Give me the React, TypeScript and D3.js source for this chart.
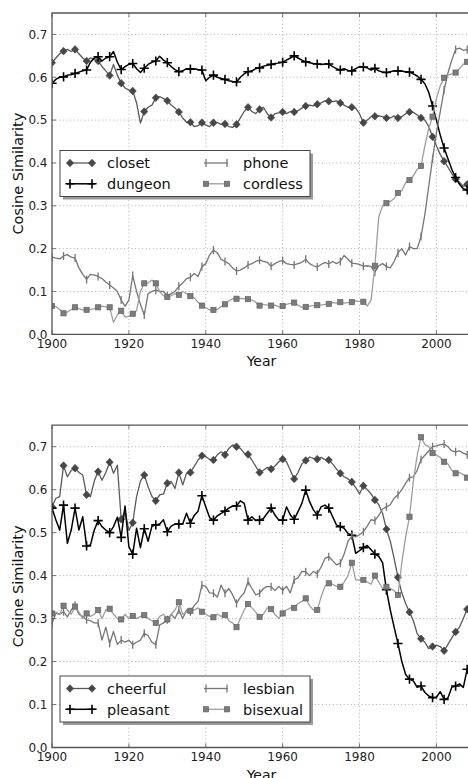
import * as d3 from "d3";

const YEARS = d3.range(1900, 2009);
const X_TICKS = [1900, 1920, 1940, 1960, 1980, 2000];
const Y_TICKS = [0, 0.1, 0.2, 0.3, 0.4, 0.5, 0.6, 0.7];

// top panel
const closet = [
  0.634, 0.645, 0.655, 0.661, 0.665, 0.66, 0.665, 0.655, 0.645, 0.638,
  0.645, 0.642, 0.638, 0.625, 0.615, 0.604, 0.63, 0.605, 0.586, 0.575,
  0.57, 0.568, 0.54, 0.493, 0.52, 0.53, 0.535, 0.552, 0.555, 0.55,
  0.545, 0.535, 0.528, 0.519, 0.505, 0.495, 0.495, 0.485, 0.487, 0.494,
  0.488, 0.485, 0.494, 0.494, 0.49, 0.491, 0.485, 0.483, 0.49, 0.505,
  0.52, 0.53, 0.52, 0.515, 0.525, 0.53, 0.515, 0.506, 0.515, 0.517,
  0.519, 0.515, 0.52, 0.519, 0.522, 0.528, 0.533, 0.535, 0.533, 0.537,
  0.54, 0.545, 0.544, 0.543, 0.545, 0.54, 0.535, 0.53, 0.53, 0.528,
  0.515, 0.494, 0.5, 0.508, 0.509, 0.51, 0.508, 0.505, 0.505, 0.51,
  0.505, 0.508, 0.515, 0.519, 0.518, 0.512, 0.505, 0.5, 0.485, 0.461,
  0.44, 0.42, 0.404, 0.39, 0.375, 0.362, 0.355, 0.345, 0.35,
];
const dungeon = [
  0.586, 0.595, 0.6, 0.601, 0.605, 0.606, 0.609, 0.612, 0.615, 0.617,
  0.635, 0.645, 0.648, 0.638, 0.645, 0.648, 0.66, 0.635, 0.618, 0.625,
  0.63, 0.632, 0.62, 0.611, 0.621, 0.63, 0.635, 0.638, 0.649, 0.64,
  0.634, 0.625, 0.618, 0.613, 0.615, 0.62, 0.619, 0.62, 0.618, 0.617,
  0.592, 0.6, 0.605, 0.6, 0.597, 0.595, 0.592, 0.59, 0.589, 0.6,
  0.608, 0.613, 0.615, 0.62, 0.622, 0.626, 0.628, 0.63, 0.632, 0.633,
  0.635, 0.64, 0.645, 0.65, 0.645, 0.64, 0.636, 0.634, 0.632, 0.631,
  0.63, 0.631, 0.631, 0.625, 0.62, 0.617, 0.62, 0.616, 0.615, 0.62,
  0.625, 0.624, 0.622, 0.617, 0.621, 0.615, 0.612, 0.611, 0.613, 0.615,
  0.615, 0.614, 0.613, 0.612, 0.608, 0.603, 0.595, 0.585, 0.565, 0.533,
  0.5, 0.465, 0.435, 0.41, 0.385, 0.366, 0.35, 0.34, 0.337,
];
const phone = [
  0.18, 0.178, 0.176, 0.183, 0.186, 0.18, 0.178, 0.155, 0.14, 0.128,
  0.14, 0.138, 0.135, 0.13, 0.122, 0.115, 0.108, 0.1, 0.08, 0.066,
  0.08, 0.137, 0.1, 0.07, 0.045, 0.095, 0.1, 0.103, 0.1, 0.1,
  0.09, 0.095, 0.1, 0.112, 0.12, 0.13, 0.133, 0.142, 0.135, 0.158,
  0.165, 0.185, 0.197, 0.19, 0.175, 0.17, 0.165, 0.155, 0.148, 0.15,
  0.155, 0.162, 0.165, 0.17, 0.173, 0.17, 0.168, 0.159, 0.165, 0.17,
  0.172, 0.165, 0.163, 0.162, 0.165, 0.168, 0.175, 0.165, 0.16, 0.157,
  0.163, 0.168, 0.164, 0.17, 0.165, 0.17, 0.184, 0.175, 0.166, 0.165,
  0.163, 0.159, 0.16, 0.158, 0.145, 0.16, 0.165, 0.158, 0.155, 0.17,
  0.19, 0.2, 0.185, 0.205, 0.2, 0.2, 0.228, 0.28, 0.345, 0.41,
  0.47, 0.52, 0.57, 0.61, 0.64, 0.665, 0.668, 0.663, 0.665,
];
const cordless = [
  0.066, 0.065, 0.058, 0.049, 0.052, 0.058, 0.063, 0.06, 0.057, 0.057,
  0.058, 0.06, 0.063, 0.066, 0.064, 0.063, 0.028, 0.045, 0.055, 0.04,
  0.042, 0.048, 0.055, 0.1, 0.119, 0.12, 0.127, 0.119, 0.1, 0.09,
  0.087, 0.09, 0.095, 0.092, 0.1, 0.095, 0.089, 0.085, 0.075, 0.067,
  0.062, 0.057, 0.057, 0.058, 0.065, 0.07, 0.078, 0.083, 0.083, 0.084,
  0.083, 0.082, 0.08, 0.075, 0.067, 0.07, 0.068, 0.067, 0.068, 0.064,
  0.066, 0.07, 0.072, 0.074, 0.068, 0.063, 0.064, 0.066, 0.067, 0.068,
  0.068, 0.07, 0.071, 0.074, 0.073, 0.075, 0.073, 0.074, 0.075, 0.078,
  0.077, 0.076, 0.066, 0.08, 0.16, 0.274, 0.3, 0.306, 0.31, 0.317,
  0.33, 0.335, 0.354, 0.36, 0.37, 0.385, 0.393, 0.44, 0.48, 0.508,
  0.55, 0.58, 0.599, 0.605, 0.608, 0.611, 0.62, 0.63, 0.636,
];

// bottom panel
const cheerful = [
  0.56, 0.58, 0.584, 0.656, 0.63, 0.645, 0.65, 0.64, 0.634, 0.588,
  0.584, 0.62, 0.642, 0.622, 0.64, 0.664, 0.638, 0.657, 0.531, 0.55,
  0.505, 0.523, 0.584, 0.62, 0.634, 0.607, 0.584, 0.574, 0.588, 0.59,
  0.615, 0.619, 0.603, 0.64, 0.611, 0.638, 0.64, 0.654, 0.669, 0.679,
  0.677, 0.67, 0.669, 0.681, 0.688, 0.681, 0.696, 0.704, 0.7, 0.696,
  0.685, 0.682, 0.669, 0.654, 0.64, 0.645, 0.652, 0.648, 0.655, 0.665,
  0.671, 0.665, 0.645, 0.625, 0.64, 0.66, 0.668, 0.676, 0.673, 0.671,
  0.675, 0.67, 0.669, 0.66, 0.648, 0.638, 0.63, 0.625, 0.618, 0.605,
  0.59, 0.609, 0.6, 0.59, 0.576, 0.565, 0.545, 0.508, 0.48, 0.44,
  0.396, 0.36, 0.335, 0.315, 0.295, 0.265, 0.253, 0.245, 0.23, 0.235,
  0.238, 0.235, 0.225, 0.24, 0.255, 0.269, 0.28, 0.3, 0.322,
];
const pleasant = [
  0.557, 0.53, 0.506, 0.564, 0.475, 0.506, 0.557, 0.506, 0.537, 0.469,
  0.471, 0.506, 0.528, 0.514, 0.506, 0.5, 0.514, 0.536, 0.489, 0.562,
  0.467, 0.45, 0.51, 0.465, 0.509, 0.48, 0.515, 0.518, 0.52, 0.53,
  0.502, 0.515, 0.52, 0.52, 0.52, 0.545, 0.522, 0.54, 0.55, 0.586,
  0.56, 0.535, 0.529, 0.539, 0.545, 0.55, 0.557, 0.562, 0.562, 0.574,
  0.568, 0.529, 0.537, 0.528, 0.529, 0.533, 0.545, 0.557, 0.541, 0.529,
  0.529, 0.56, 0.541, 0.531, 0.549, 0.568, 0.599, 0.572, 0.553, 0.541,
  0.56, 0.564, 0.557, 0.537, 0.518, 0.514, 0.51, 0.498, 0.494, 0.452,
  0.458, 0.465, 0.47, 0.46, 0.45, 0.445, 0.43, 0.367, 0.32, 0.28,
  0.242, 0.2, 0.17, 0.159, 0.155, 0.14, 0.143, 0.128, 0.12, 0.116,
  0.117, 0.13, 0.112, 0.115, 0.14, 0.143, 0.148, 0.14, 0.182,
];
const lesbian = [
  0.289, 0.312, 0.31, 0.316, 0.304, 0.32, 0.331, 0.31, 0.305, 0.297,
  0.295, 0.29, 0.29, 0.25, 0.28, 0.242, 0.27, 0.24, 0.25, 0.245,
  0.25, 0.239, 0.245, 0.25, 0.266, 0.26, 0.245, 0.239, 0.285, 0.29,
  0.297, 0.31, 0.3, 0.32, 0.3, 0.32, 0.316, 0.33, 0.34, 0.378,
  0.375, 0.36, 0.359, 0.35, 0.378, 0.359, 0.37, 0.355, 0.335, 0.35,
  0.36, 0.386, 0.37, 0.355, 0.359, 0.37, 0.375, 0.374, 0.365, 0.375,
  0.366, 0.375, 0.36, 0.39, 0.395, 0.41, 0.409, 0.4, 0.41, 0.404,
  0.42, 0.44, 0.444, 0.435, 0.425, 0.429, 0.45, 0.48, 0.492, 0.49,
  0.495, 0.502, 0.515, 0.53, 0.528, 0.54, 0.555, 0.56, 0.565, 0.58,
  0.588, 0.6, 0.615, 0.628, 0.63, 0.645, 0.67, 0.68, 0.69, 0.7,
  0.702, 0.705, 0.706, 0.7, 0.69, 0.688, 0.69, 0.685, 0.681,
];
const bisexual = [
  0.312, 0.315, 0.31, 0.33, 0.32, 0.31, 0.328, 0.315, 0.3, 0.312,
  0.305, 0.31, 0.32, 0.3, 0.32, 0.323, 0.31, 0.3, 0.298, 0.31,
  0.3, 0.306, 0.3, 0.305, 0.308, 0.3, 0.295, 0.29, 0.305, 0.31,
  0.298, 0.31, 0.32, 0.338, 0.31, 0.315, 0.318, 0.32, 0.325, 0.316,
  0.31, 0.305, 0.303, 0.31, 0.305, 0.308, 0.295, 0.29, 0.28, 0.3,
  0.32, 0.334, 0.325, 0.315, 0.304, 0.31, 0.325, 0.322, 0.31, 0.3,
  0.312, 0.32, 0.325, 0.325, 0.335, 0.34, 0.347, 0.33, 0.32, 0.32,
  0.35, 0.375, 0.382, 0.38, 0.375, 0.374, 0.385, 0.4, 0.43, 0.39,
  0.39, 0.39, 0.385, 0.38, 0.4, 0.385, 0.37, 0.374, 0.37, 0.365,
  0.355, 0.43, 0.49, 0.537, 0.62, 0.68, 0.722, 0.705, 0.7, 0.685,
  0.68, 0.675, 0.665, 0.66, 0.645, 0.638, 0.64, 0.635, 0.628,
];

type MarkerKind = "diamond" | "plus" | "vline" | "square";

const LINE_STYLE: Record<MarkerKind, { stroke: string; width: number }> = {
  diamond: { stroke: "#5a5a5a", width: 1.3 },
  plus: { stroke: "#000000", width: 1.5 },
  vline: { stroke: "#767676", width: 1.3 },
  square: { stroke: "#9e9e9e", width: 1.3 },
};

interface Series {
  name: string;
  values: number[];
  marker: MarkerKind;
}

const TOP_SERIES: Series[] = [
  { name: "closet", values: closet, marker: "diamond" },
  { name: "dungeon", values: dungeon, marker: "plus" },
  { name: "phone", values: phone, marker: "vline" },
  { name: "cordless", values: cordless, marker: "square" },
];
const BOTTOM_SERIES: Series[] = [
  { name: "cheerful", values: cheerful, marker: "diamond" },
  { name: "pleasant", values: pleasant, marker: "plus" },
  { name: "lesbian", values: lesbian, marker: "vline" },
  { name: "bisexual", values: bisexual, marker: "square" },
];

const FONT = "'DejaVu Sans', sans-serif";
const LEFT = 52;
const RIGHT = 471;

function Marker({ kind, x, y }: { kind: MarkerKind; x: number; y: number }) {
  if (kind === "diamond") {
    return (
      <path
        d={`M${x},${y - 3.8}L${x + 3.6},${y}L${x},${y + 3.8}L${x - 3.6},${y}Z`}
        fill="#474747"
        stroke="#3d3d3d"
        strokeWidth={0.6}
      />
    );
  }
  if (kind === "plus") {
    return (
      <path
        d={`M${x - 4.6},${y}H${x + 4.6}M${x},${y - 4.6}V${y + 4.6}`}
        stroke="#000"
        strokeWidth={1.6}
        fill="none"
      />
    );
  }
  if (kind === "vline") {
    return (
      <path d={`M${x},${y - 4}V${y + 4}`} stroke="#767676" strokeWidth={1.3} fill="none" />
    );
  }
  return (
    <rect x={x - 2.6} y={y - 2.6} width={5.2} height={5.2} fill="#7c7c7c" stroke="#616161" strokeWidth={0.7} />
  );
}

function Panel({
  id,
  top,
  bottom,
  series,
  legendTop,
}: {
  id: string;
  top: number;
  bottom: number;
  series: Series[];
  legendTop: number;
}) {
  const x = d3.scaleLinear().domain([1900, 2009]).range([LEFT, RIGHT]);
  const y = d3.scaleLinear().domain([0, 0.75]).range([bottom, top]);
  const line = d3
    .line<number>()
    .x((_, i) => x(YEARS[i]))
    .y((d) => y(d));

  const legendCols = [
    { handle: [67, 95], marks: [70, 92], text: 107 },
    { handle: [204, 228], marks: [206, 227], text: 243 },
  ];
  const legendRows = [legendTop + 12.5, legendTop + 33.3];

  return (
    <g>
      <defs>
        <clipPath id={id}>
          <rect x={LEFT} y={top} width={RIGHT - LEFT} height={bottom - top} />
        </clipPath>
      </defs>

      {/* grid */}
      {X_TICKS.slice(1).map((t) => (
        <line key={`gx${t}`} x1={x(t)} x2={x(t)} y1={top} y2={bottom}
          stroke="#8a8a8a" strokeWidth={0.7} strokeDasharray="1,2.6" />
      ))}
      {Y_TICKS.slice(1).map((t) => (
        <line key={`gy${t}`} x1={LEFT} x2={RIGHT} y1={y(t)} y2={y(t)}
          stroke="#8a8a8a" strokeWidth={0.7} strokeDasharray="1,2.6" />
      ))}

      <g clipPath={`url(#${id})`}>
        {series.map((s) => (
          <g key={s.name}>
            <path
              d={line(s.values) ?? ""}
              fill="none"
              stroke={LINE_STYLE[s.marker].stroke}
              strokeWidth={LINE_STYLE[s.marker].width}
              strokeLinejoin="round"
            />
            {s.values.map((v, i) =>
              i % 3 === 0 ? (
                <Marker key={i} kind={s.marker} x={x(YEARS[i])} y={y(v)} />
              ) : null,
            )}
          </g>
        ))}
      </g>

      {/* ticks */}
      {X_TICKS.map((t) => (
        <g key={`tx${t}`}>
          <line x1={x(t)} x2={x(t)} y1={bottom} y2={bottom - 4} stroke="#555" strokeWidth={0.8} />
          <line x1={x(t)} x2={x(t)} y1={top} y2={top + 4} stroke="#555" strokeWidth={0.8} />
          <text x={x(t)} y={bottom + 13.5} textAnchor="middle" fontFamily={FONT} fontSize={12} fill="#222">
            {t}
          </text>
        </g>
      ))}
      {Y_TICKS.map((t) => (
        <g key={`ty${t}`}>
          <line x1={LEFT} x2={LEFT + 4} y1={y(t)} y2={y(t)} stroke="#555" strokeWidth={0.8} />
          <text x={47.5} y={y(t)} dy="0.36em" textAnchor="end" fontFamily={FONT} fontSize={12} fill="#222">
            {t.toFixed(1)}
          </text>
        </g>
      ))}

      {/* spines */}
      <path d={`M${RIGHT},${top}H${LEFT}V${bottom}H${RIGHT}`} fill="none" stroke="#555" strokeWidth={1.3} />

      {/* axis labels */}
      <text x={(LEFT + RIGHT) / 2} y={bottom + 32} textAnchor="middle" fontFamily={FONT} fontSize={14} fill="#111">
        Year
      </text>
      <text
        transform={`translate(23,${(top + bottom) / 2}) rotate(-90)`}
        textAnchor="middle"
        fontFamily={FONT}
        fontSize={14.5}
        fill="#111"
      >
        Cosine Similarity
      </text>

      {/* legend */}
      <rect x={63} y={legendTop + 3} width={250} height={46} fill="#9a9a9a" />
      <rect x={60} y={legendTop} width={250} height={46} fill="#fff" stroke="#333" strokeWidth={0.9} />
      {series.map((s, i) => {
        const col = legendCols[Math.floor(i / 2)];
        const ry = legendRows[i % 2];
        return (
          <g key={`lg${s.name}`}>
            <line x1={col.handle[0]} x2={col.handle[1]} y1={ry} y2={ry}
              stroke={LINE_STYLE[s.marker].stroke} strokeWidth={LINE_STYLE[s.marker].width} />
            {col.marks.map((mx) => (
              <Marker key={mx} kind={s.marker} x={mx} y={ry} />
            ))}
            <text x={col.text} y={ry} dy="0.36em" fontFamily={FONT} fontSize={14.5} fill="#111">
              {s.name}
            </text>
          </g>
        );
      })}
    </g>
  );
}

export default function App() {
  return (
    <div style={{ position: "absolute", left: 0, top: 0 }}>
      <svg width={468} height={778} style={{ display: "block", background: "#fff" }}>
        <Panel id="clipTop" top={13} bottom={334.3} series={TOP_SERIES} legendTop={150.5} />
        <Panel id="clipBottom" top={425.2} bottom={747.5} series={BOTTOM_SERIES} legendTop={676} />
      </svg>
    </div>
  );
}
